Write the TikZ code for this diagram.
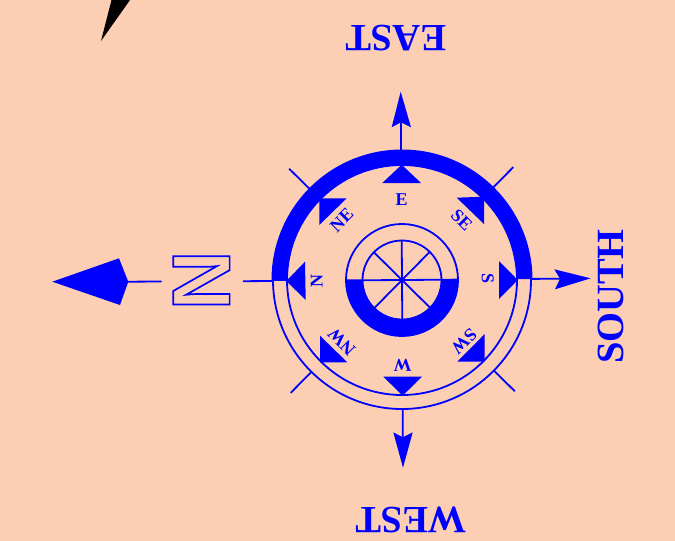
\documentclass[tikz,border=0pt]{standalone}
\usepackage{fontspec}
\usetikzlibrary{calc}
\setmainfont{Liberation Serif}
\newfontfamily\arialf{Liberation Sans}
\definecolor{bgpeach}{HTML}{FCCFB4}
\definecolor{cblue}{HTML}{0000FF}
\newcommand{\outlinedtext}[1]{\special{pdf:code 1 Tr 1.7 w}#1\special{pdf:code 0 Tr 1 w}}
\tikzset{
  x=1pt,y=-1pt,
  thin line/.style={draw=cblue,line width=1.8pt},
  solid blue/.style={fill=cblue,draw=none},
  big label/.style={text=cblue,font=\bfseries\fontsize{38.5}{38.5}\selectfont,inner sep=0},
  small label/.style={text=cblue,font=\bfseries\fontsize{18}{18}\selectfont,inner sep=0},
  outline letter/.style={text=cblue,inner sep=0,font=\arialf\bfseries\fontsize{82}{82}\selectfont},
}
\begin{document}
\begin{tikzpicture}
\fill[bgpeach] (0,0) rectangle (675,541);
\useasboundingbox (0,0) rectangle (675,541);
\coordinate (c) at (402,280);
\def\tlt{-0.4}
% spike
\fill[black] (101,41) -- (111.5,0) -- (130,0) -- cycle;
% outer rings
\draw[thin line] (c) circle[radius=129];
\draw[thin line] (c) circle[radius=115];
\fill[solid blue] ($(c)+(179.6:130.5)$) arc[start angle=179.6,end angle=359.6,radius=130.5]
  -- ($(c)+(359.6:115)$) arc[start angle=359.6,end angle=179.6,radius=115] -- cycle;
% diagonal ticks
\foreach \a in {45,135,225,315}{
  \draw[thin line] ($(c)+(\a+\tlt:129)$) -- ($(c)+(\a+\tlt:158.5)$);
}
% hub
\draw[thin line] (c) circle[radius=56];
\draw[thin line] (c) circle[radius=39.5];
\fill[solid blue] ($(c)+(179.6:56)$) arc[start angle=179.6,end angle=-0.4,radius=56]
  -- ($(c)+(-0.4:39.5)$) arc[start angle=-0.4,end angle=179.6,radius=39.5] -- cycle;
\draw[thin line] ($(c)+(179.6:56)$) -- ($(c)+(-0.4:56)$);
\foreach \a in {45,90,135,225,270,315}{
  \draw[thin line] (c) -- ($(c)+(\a+\tlt:39.5)$);
}
% inner triangles
\fill[solid blue] (401.7,164.7) -- (382.3,183) -- (421,183) -- cycle;
\fill[solid blue] (517.7,280) -- (499,261) -- (499,299) -- cycle;
\fill[solid blue] (402.7,395.7) -- (383.3,376.7) -- (422,376.7) -- cycle;
\fill[solid blue] (286.3,281) -- (305,261.7) -- (305.7,300) -- cycle;
\fill[solid blue] (319.3,198.3) -- (346.7,198.3) -- (319.3,225) -- cycle;
\fill[solid blue] (484,196.7) -- (456.7,197.7) -- (484,224) -- cycle;
\fill[solid blue] (484.7,361.7) -- (457.3,361.7) -- (484.7,334) -- cycle;
\fill[solid blue] (320,362.3) -- (347.3,362.3) -- (320,335.7) -- cycle;
% small labels
\node[small label] (lE) at (401.7,200) {E};
\node[small label,rotate=-90] (lS) at (487.7,279) {S};
\node[small label,rotate=180] (lW) at (402.7,365.7) {W};
\node[small label,rotate=90] (lN) at (316.7,280.7) {N};
\node[small label,rotate=45] (lNE) at (341.7,220) {NE};
\node[small label,rotate=-45] (lSE) at (461.7,220) {SE};
\node[small label,rotate=-135] (lSW) at (464,341.7) {SW};
\node[small label,rotate=135] (lNW) at (341.7,341.7) {NW};
% cardinal shafts
\draw[thin line] (401,151) -- (400.9,122);
\draw[thin line] (402.7,409) -- (402.8,437);
\draw[thin line] (532,278.9) -- (560,278.7);
\draw[thin line] (272,281) -- (243,281.2);
\draw[thin line] (161.7,281.5) -- (128,281.7);
% arrowheads
\fill[solid blue] (400.7,91.7) -- (391.7,127.3) -- (400.9,122.3) -- (411,127.3) -- cycle;
\fill[solid blue] (403,467.7) -- (393.3,432.3) -- (402.8,437.3) -- (412.7,432.3) -- cycle;
\fill[solid blue] (590.7,278.3) -- (554.3,269.3) -- (560,278.7) -- (555,289.3) -- cycle;
\fill[solid blue] (52.3,281.7) -- (119,258.3) -- (128.3,281.7) -- (120,305) -- cycle;
% big labels
\node[big label,rotate=180] (east) at (396,38) {EAST};
\node[big label,rotate=180] (west) at (411,519.5) {WEST};
\node[big label,rotate=90] (south) at (610.5,296.5) {SOUTH};
\node[outline letter,rotate=90] (north) at (201.4,280.4) {\outlinedtext{N}};
\end{tikzpicture}
\end{document}
